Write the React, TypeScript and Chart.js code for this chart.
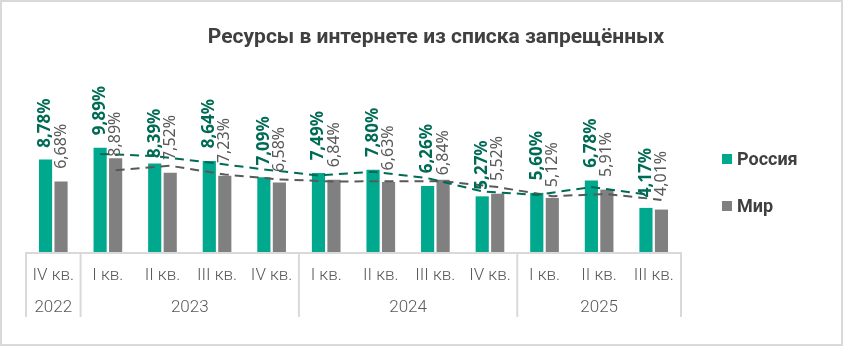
import React, { useEffect, useRef } from "react";
import { Chart, registerables } from "chart.js";
Chart.register(...registerables);

const title = "Ресурсы в интернете из списка запрещённых";
const quarters = ["IV кв.", "I кв.", "II кв.", "III кв.", "IV кв.", "I кв.", "II кв.", "III кв.", "IV кв.", "I кв.", "II кв.", "III кв."];
const years = ["2022", "2023", "2024", "2025"];
const yearSpans = [1, 4, 4, 3];
const seriesNames = ["Россия", "Мир"];
const russia = [8.78, 9.89, 8.39, 8.64, 7.09, 7.49, 7.8, 6.26, 5.27, 5.6, 6.78, 4.17];
const world = [6.68, 8.89, 7.52, 7.23, 6.58, 6.84, 6.63, 6.84, 5.52, 5.12, 5.91, 4.01];
// 2-period moving-average trend lines as shown in the picture
const russiaTrend = [null, 9.34, 9.14, 8.52, 7.87, 7.29, 7.65, 7.03, 5.77, 5.44, 6.19, 5.48];
const worldTrend = [null, 7.79, 8.21, 7.38, 6.91, 6.71, 6.74, 6.74, 6.18, 5.32, 5.52, 4.96];

// label gap above bar (px), styling only
const russiaLabelGap = [12, 13, 6, 13, 12, 13, 13, 13, 7, 13, 13, 11];
const worldLabelGap = [13, 2, 13, 13, 11, 13, 12, 5, 13, 11, 13, 14];

const GREEN = "#00A88E";
const GREEN_DARK = "#006B55";
const GREY = "#808080";
const GREY_DARK = "#595959";
const TEXT = "#404040";
const LINE = "#D9D9D9";
const SHIFT = 0.142; // half of a bar slot, in category units
const BAR_W = 12.5;

const fmt = (v: number) => v.toFixed(2).replace(".", ",") + "%";

const decor = {
  id: "decor",
  afterDraw(chart: any) {
    const ctx = chart.ctx as CanvasRenderingContext2D;
    const ca = chart.chartArea;
    const xs = chart.scales.x;
    ctx.save();
    // frame
    ctx.strokeStyle = LINE;
    ctx.lineWidth = 2;
    ctx.strokeRect(1, 1, chart.width - 2, chart.height - 2);

    // title
    ctx.fillStyle = TEXT;
    ctx.font = "bold 21px Roboto";
    ctx.textAlign = "center";
    ctx.textBaseline = "middle";
    ctx.fillText(title, 436, 38);

    // legend
    const colors = [GREEN, GREY];
    const ly = [159, 206];
    ctx.font = "bold 18px Roboto";
    ctx.textAlign = "left";
    seriesNames.forEach((n, i) => {
      ctx.fillStyle = colors[i];
      ctx.fillRect(722, ly[i] - 5, 10, 10);
      ctx.fillStyle = TEXT;
      ctx.fillText(n, 737, ly[i] + 1);
    });

    // axis box
    const bottom = ca.bottom;
    const boxBottom = 317;
    ctx.strokeStyle = LINE;
    ctx.lineWidth = 2;
    ctx.beginPath();
    ctx.moveTo(ca.left, bottom + 1);
    ctx.lineTo(ca.right, bottom + 1);
    let idx = 0;
    const bounds = [0];
    yearSpans.forEach((s) => {
      idx += s;
      bounds.push(idx);
    });
    const edge = (b: number) => xs.getPixelForValue(b - 0.5);
    bounds.forEach((b) => {
      const x = edge(b);
      ctx.moveTo(x, bottom);
      ctx.lineTo(x, boxBottom);
    });
    ctx.stroke();

    ctx.fillStyle = GREY_DARK;
    ctx.font = "300 17px Roboto";
    ctx.textAlign = "center";
    quarters.forEach((q, i) => {
      ctx.fillText(q, xs.getPixelForValue(i), 276);
    });
    years.forEach((y, i) => {
      ctx.fillText(y, (edge(bounds[i]) + edge(bounds[i + 1])) / 2, 308);
    });

    // data labels
    const drawLabels = (di: number, vals: number[], gaps: number[], font: string, color: string) => {
      const meta = chart.getDatasetMeta(di);
      meta.data.forEach((el: any, i: number) => {
        ctx.save();
        ctx.translate(el.x, el.y - gaps[i]);
        ctx.rotate(-Math.PI / 2);
        ctx.font = font;
        ctx.fillStyle = color;
        ctx.textAlign = "left";
        ctx.textBaseline = "middle";
        ctx.fillText(fmt(vals[i]), 0, 0);
        ctx.restore();
      });
    };
    drawLabels(0, russia, russiaLabelGap, "bold 17px 'Noto Sans'", GREEN_DARK);
    drawLabels(1, world, worldLabelGap, "16px 'Noto Sans'", GREY_DARK);
    ctx.restore();
  },
};

const points = (arr: (number | null)[], shift: number) =>
  arr
    .map((v, i) => (v == null ? null : { x: i + shift, y: v }))
    .filter((p) => p !== null);

export default function App() {
  const ref = useRef<HTMLCanvasElement | null>(null);
  useEffect(() => {
    if (!ref.current) return;
    const chart = new Chart(ref.current, {
      type: "bar",
      data: {
        datasets: [
          {
            type: "bar",
            label: seriesNames[0],
            data: points(russia, -SHIFT) as any,
            backgroundColor: GREEN,
            grouped: false,
            barThickness: BAR_W,
            order: 2,
          },
          {
            type: "bar",
            label: seriesNames[1],
            data: points(world, SHIFT) as any,
            backgroundColor: GREY,
            grouped: false,
            barThickness: BAR_W,
            order: 2,
          },
          {
            type: "line",
            label: "trendR",
            data: points(russiaTrend, -SHIFT) as any,
            borderColor: GREEN_DARK,
            borderWidth: 2,
            borderDash: [9, 6],
            pointRadius: 0,
            tension: 0,
            fill: false,
            order: 0,
          },
          {
            type: "line",
            label: "trendW",
            data: points(worldTrend, SHIFT) as any,
            borderColor: GREY_DARK,
            borderWidth: 2,
            borderDash: [9, 6],
            pointRadius: 0,
            tension: 0,
            fill: false,
            order: 1,
          },
        ],
      },
      options: {
        animation: false,
        responsive: true,
        maintainAspectRatio: false,
        layout: { padding: { left: 26, right: 162, top: 84, bottom: 94 } },
        plugins: { legend: { display: false }, title: { display: false }, tooltip: { enabled: false } },
        scales: {
          x: { type: "linear", display: false, min: -0.5, max: 11.5, offset: false },
          y: { display: false, min: 0, max: 16 },
        },
      },
      plugins: [decor],
    });
    return () => chart.destroy();
  }, []);
  return (
    <div style={{ position: "fixed", left: 0, top: 0, width: 843, height: 346, background: "#fff" }}>
      <canvas ref={ref} style={{ display: "block" }} />
    </div>
  );
}
